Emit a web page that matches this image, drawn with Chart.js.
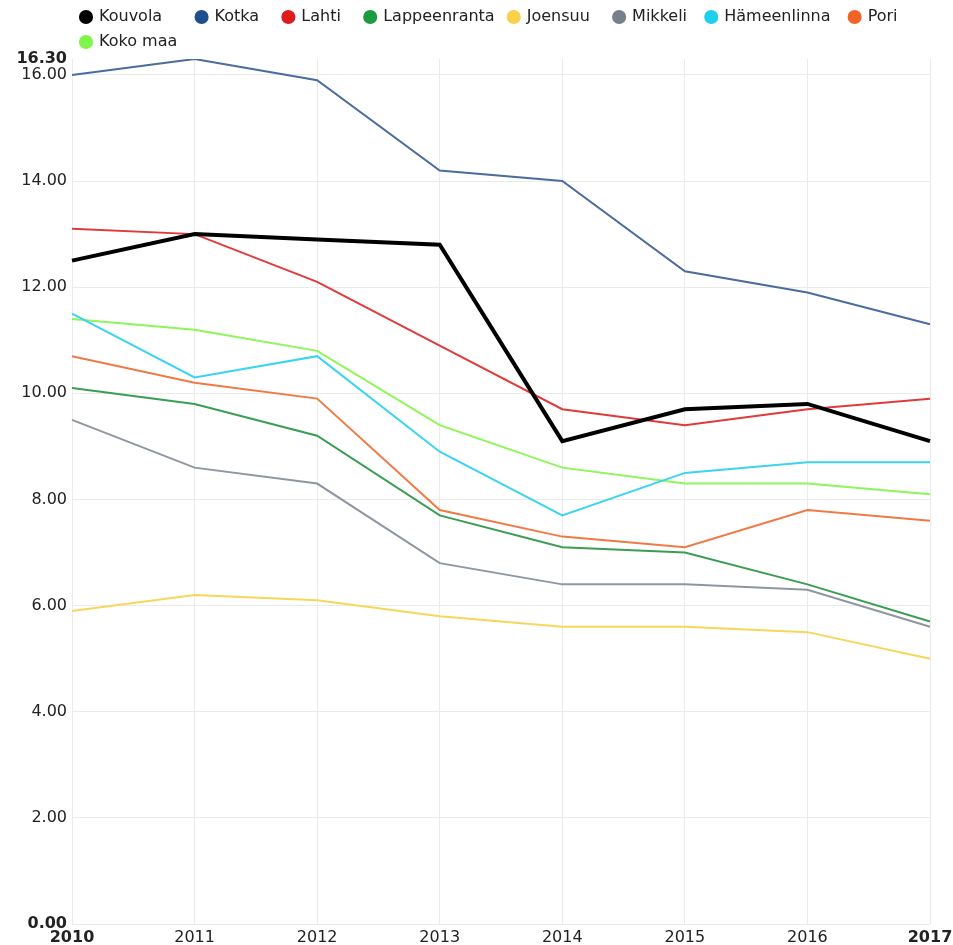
<!DOCTYPE html>
<html>
<head>
<meta charset="utf-8">
<script src="https://cdn.jsdelivr.net/npm/chart.js@4/dist/chart.umd.min.js"></script>
<style>
  html, body { margin: 0; padding: 0; background: #ffffff; }
  #wrap { width: 953px; height: 945px; position: relative; }
</style>
</head>
<body>
<div id="wrap"><canvas id="c"></canvas></div>
<script>
const years = ["2010", "2011", "2012", "2013", "2014", "2015", "2016", "2017"];
const yTicks = [0, 2, 4, 6, 8, 10, 12, 14, 16, 16.3];

const kouvola      = [12.5, 13.0, 12.9, 12.8, 9.1, 9.7, 9.8, 9.1];
const kotka        = [16.0, 16.3, 15.9, 14.2, 14.0, 12.3, 11.9, 11.3];
const lahti        = [13.1, 13.0, 12.1, 10.9, 9.7, 9.4, 9.7, 9.9];
const lappeenranta = [10.1, 9.8, 9.2, 7.7, 7.1, 7.0, 6.4, 5.7];
const joensuu      = [5.9, 6.2, 6.1, 5.8, 5.6, 5.6, 5.5, 5.0];
const mikkeli      = [9.5, 8.6, 8.3, 6.8, 6.4, 6.4, 6.3, 5.6];
const hameenlinna  = [11.5, 10.3, 10.7, 8.9, 7.7, 8.5, 8.7, 8.7];
const pori         = [10.7, 10.2, 9.9, 7.8, 7.3, 7.1, 7.8, 7.6];
const kokoMaa      = [11.4, 11.2, 10.8, 9.4, 8.6, 8.3, 8.3, 8.1];

const FONT = "'DejaVu Sans', sans-serif";
// trailing gap (in spaces) after each legend label
const legendGaps = [5, 3, 3, 1, 3, 2, 2, 0, 0];

function ds(label, data, line, dot, width) {
  return {
    label, data,
    borderColor: line,
    backgroundColor: dot,
    borderWidth: width || 2,
    pointRadius: 0,
    pointHoverRadius: 0,
    tension: 0,
    fill: false
  };
}

const datasets = [
  ds("Kouvola", kouvola, "#000000", "#000000", 4),
  ds("Kotka", kotka, "#4a6c9e", "#1f4e8c"),
  ds("Lahti", lahti, "#e03a3a", "#dd1c1c"),
  ds("Lappeenranta", lappeenranta, "#3a9e52", "#1e9a40"),
  ds("Joensuu", joensuu, "#f7d65c", "#f9d14a"),
  ds("Mikkeli", mikkeli, "#8e96a0", "#777f8a"),
  ds("Hämeenlinna", hameenlinna, "#3ad4f0", "#1fcfee"),
  ds("Pori", pori, "#f07a45", "#f06428"),
  ds("Koko maa", kokoMaa, "#8ef55a", "#7ef548")
];

const legendPatch = {
  id: 'legendPatch',
  beforeLayout(chart) {
    const lg = chart.legend;
    if (lg && !lg._patched) {
      const orig = lg.fit;
      lg.fit = function () { orig.call(this); this.height = 59; };
      lg._patched = true;
    }
  }
};

new Chart(document.getElementById('c'), {
  type: 'line',
  data: { labels: years, datasets },
  plugins: [legendPatch],
  options: {
    responsive: true,
    maintainAspectRatio: false,
    animation: false,
    layout: { padding: 0 },
    plugins: {
      tooltip: { enabled: false },
      legend: {
        position: 'top',
        align: 'start',
        fullSize: false,
        labels: {
          usePointStyle: true,
          pointStyle: 'circle',
          boxWidth: 10,
          boxHeight: 10,
          padding: 9,
          color: '#222222',
          font: { family: FONT, size: 16 },
          generateLabels(chart) {
            return chart.data.datasets.map((d, i) => ({
              text: d.label + " ".repeat(legendGaps[i]),
              fillStyle: d.backgroundColor,
              strokeStyle: d.backgroundColor,
              lineWidth: 0,
              pointStyle: 'circle',
              hidden: false,
              datasetIndex: i,
              fontColor: '#222222'
            }));
          }
        }
      }
    },
    scales: {
      x: {
        type: 'category',
        offset: false,
        border: { display: false },
        grid: { color: '#ebebeb', drawTicks: false, lineWidth: 1 },
        afterFit(axis) { axis.height = 21; axis.paddingRight = 23; },
        ticks: {
          padding: 4,
          maxRotation: 0,
          autoSkip: false,
          color: '#222222',
          font: (ctx) => ({
            family: FONT, size: 16,
            weight: (ctx.index === 0 || ctx.index === years.length - 1) ? 'bold' : 'normal'
          })
        }
      },
      y: {
        min: 0,
        max: 16.3,
        border: { display: false },
        afterFit(axis) { axis.width = 72; },
        afterBuildTicks(axis) {
          axis.ticks = yTicks.map(v => ({ value: v }));
        },
        grid: {
          drawTicks: false,
          color: (ctx) => (ctx.tick && ctx.tick.value === 16.3) ? 'rgba(0,0,0,0)' : '#ebebeb'
        },
        ticks: {
          padding: 5,
          color: '#222222',
          callback: (v) => Number(v).toFixed(2),
          font: (ctx) => ({
            family: FONT, size: 16,
            weight: (ctx.tick && (ctx.tick.value === 16.3 || ctx.tick.value === 0)) ? 'bold' : 'normal'
          })
        }
      }
    }
  }
});
</script>
</body>
</html>
